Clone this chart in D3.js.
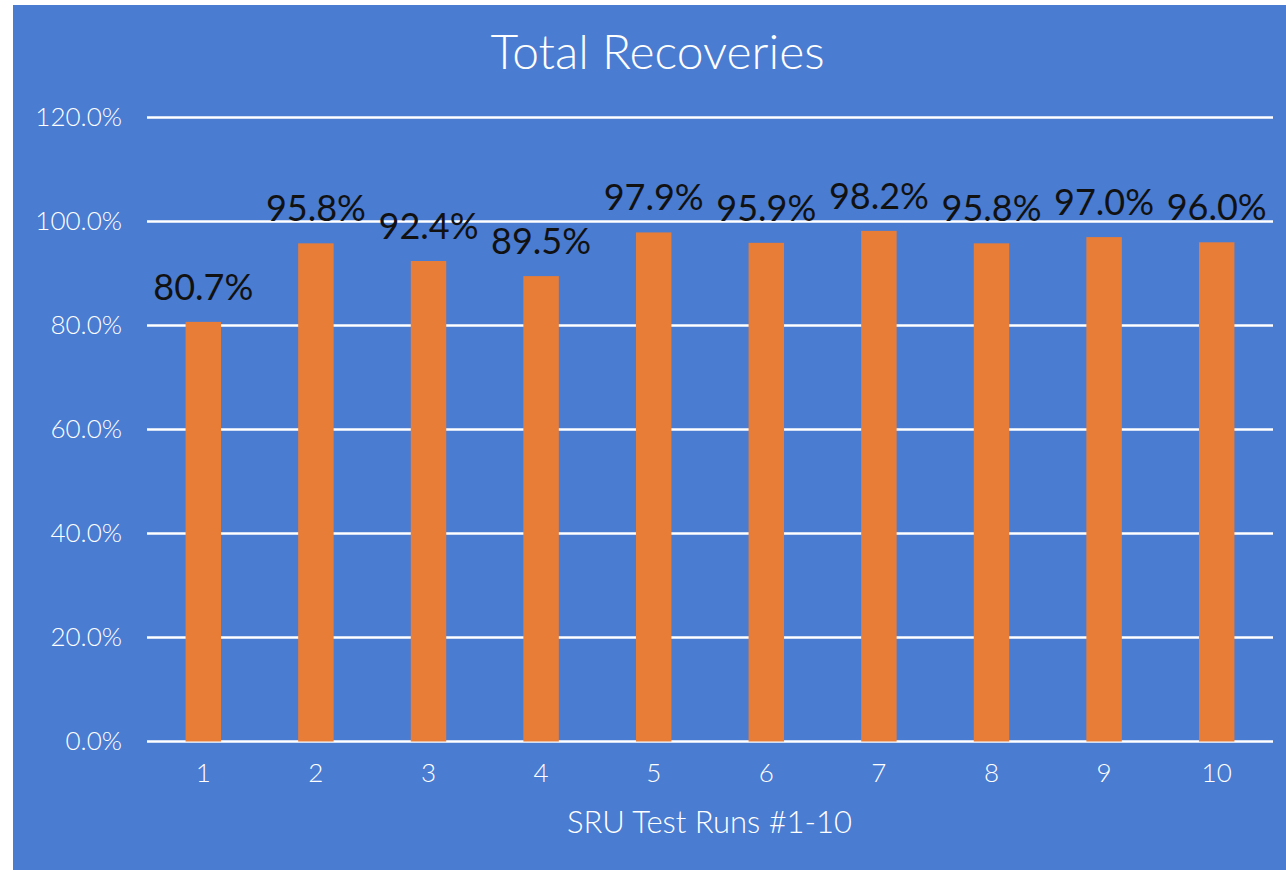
<!DOCTYPE html>
<html>
<head>
<meta charset="utf-8">
<script src="https://cdn.jsdelivr.net/npm/d3@7"></script>
<style>
  html, body { margin: 0; padding: 0; background: #ffffff; }
  svg { display: block; }
</style>
</head>
<body>
<script>
// ---- Data ----
const categories = ["1", "2", "3", "4", "5", "6", "7", "8", "9", "10"];
const recoveries = [80.7, 95.8, 92.4, 89.5, 97.9, 95.9, 98.2, 95.8, 97.0, 96.0];
const yTicks = [0, 20, 40, 60, 80, 100, 120];
const chartTitle = "Total Recoveries";
const xAxisTitle = "SRU Test Runs #1-10";

// ---- Layout ----
const W = 1286, H = 870;
const bg = "#4A7CD2", barColor = "#E87D38";
const font = "Lato, 'Open Sans', sans-serif";
const plot = { left: 147, right: 1273, top: 117.5, bottom: 741.5 };

const svg = d3.select("body").append("svg").attr("width", W).attr("height", H);

svg.append("rect").attr("x", 13).attr("y", 5).attr("width", W - 13).attr("height", H - 5).attr("fill", bg);

const x = d3.scaleBand().domain(categories).range([plot.left, plot.right])
  .paddingInner(0.685).paddingOuter(0.3425);
const y = d3.scaleLinear().domain([0, 120]).range([plot.bottom, plot.top]);

// gridlines
svg.append("g").selectAll("line").data(yTicks).join("line")
  .attr("x1", plot.left).attr("x2", plot.right)
  .attr("y1", d => y(d)).attr("y2", d => y(d))
  .attr("stroke", "#ffffff").attr("stroke-width", 2.5);

// y axis labels
const yAxis = d3.axisLeft(y).tickValues(yTicks).tickFormat(d => d.toFixed(1) + "%").tickSize(0).tickPadding(25);
const gy = svg.append("g").attr("transform", `translate(${plot.left},0)`).call(yAxis);
gy.select(".domain").remove();
gy.selectAll("text").attr("fill", "#ffffff").attr("font-family", font).attr("font-size", 26).attr("font-weight", 300);

// x axis labels
const xAxis = d3.axisBottom(x).tickSize(0).tickPadding(22);
const gx = svg.append("g").attr("transform", `translate(0,${plot.bottom})`).call(xAxis);
gx.select(".domain").remove();
gx.selectAll("text").attr("fill", "#ffffff").attr("font-family", font).attr("font-size", 26).attr("font-weight", 300);

// bars
svg.append("g").selectAll("rect").data(recoveries).join("rect")
  .attr("x", (d, i) => x(categories[i]))
  .attr("width", x.bandwidth())
  .attr("y", d => y(d))
  .attr("height", d => y(0) - y(d))
  .attr("fill", barColor);

// data labels
svg.append("g").selectAll("text").data(recoveries).join("text")
  .attr("x", (d, i) => x(categories[i]) + x.bandwidth() / 2)
  .attr("y", d => y(d) - 22)
  .attr("text-anchor", "middle")
  .attr("font-family", font).attr("font-size", 36)
  .attr("fill", "#111111")
  .text(d => d.toFixed(1) + "%");

// title
svg.append("text").attr("x", 657.5).attr("y", 69)
  .attr("text-anchor", "middle").attr("font-family", font).attr("font-size", 48).attr("font-weight", 300)
  .attr("fill", "#ffffff").text(chartTitle);

// x axis title
svg.append("text").attr("x", 709.5).attr("y", 833)
  .attr("text-anchor", "middle").attr("font-family", font).attr("font-size", 31).attr("font-weight", 300)
  .attr("fill", "#ffffff").text(xAxisTitle);
</script>
</body>
</html>
